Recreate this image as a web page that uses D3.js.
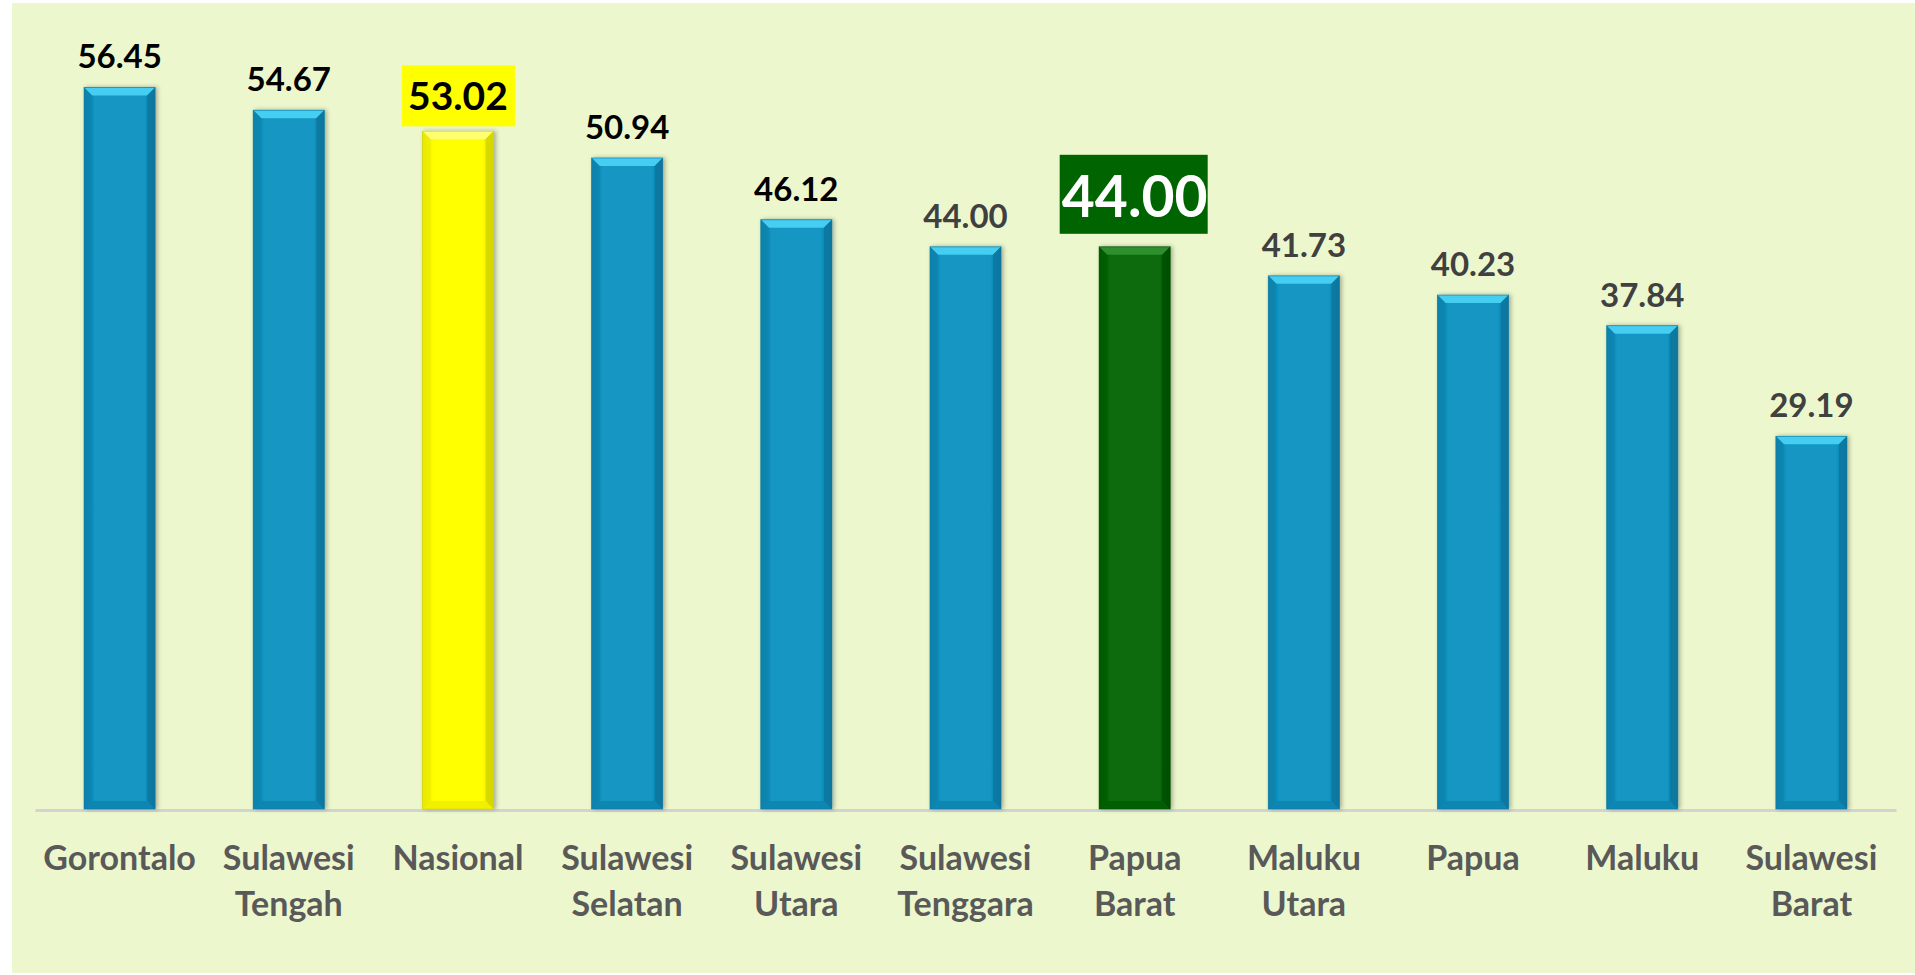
<!DOCTYPE html>
<html>
<head>
<meta charset="utf-8">
<script src="https://cdn.jsdelivr.net/npm/d3@7"></script>
<style>
  html, body { margin: 0; padding: 0; background: #ffffff; }
  svg { display: block; }
  text { font-family: Lato, "Open Sans", sans-serif; font-weight: bold; }
</style>
</head>
<body>
<div id="chart"></div>
<script>
// values
var categories = ["Gorontalo", "Sulawesi Tengah", "Nasional", "Sulawesi Selatan", "Sulawesi Utara",
  "Sulawesi Tenggara", "Papua Barat", "Maluku Utara", "Papua", "Maluku", "Sulawesi Barat"];
var values = [56.45, 54.67, 53.02, 50.94, 46.12, 44.00, 44.00, 41.73, 40.23, 37.84, 29.19];
var nationalName = "Nasional";
var featuredName = "Papua Barat";

var width = 1915, height = 975;

var svg = d3.select("#chart").append("svg")
  .attr("width", width)
  .attr("height", height);

// light green panel
svg.append("rect")
  .attr("x", 12).attr("y", 3)
  .attr("width", width - 12).attr("height", 970)
  .attr("fill", "#ecf7cd");

var x = d3.scaleBand()
  .domain(categories)
  .range([35, 1896])
  .paddingInner(0.58)
  .paddingOuter(0.29);

var y = d3.scaleLinear()
  .domain([0, 60])
  .range([810, 42]);

// colours for each kind of bar
var palettes = {
  blue:   { dark: "#0a769e", mid: "#1296c3", top: "#45cdf2", side: "#0d84af", bottom: "#0f86b1" },
  yellow: { dark: "#d4d400", mid: "#ffff00", top: "#ffff70", side: "#eeee00", bottom: "#f0f000" },
  green:  { dark: "#034f03", mid: "#076b07", top: "#2f8f2f", side: "#055c05", bottom: "#065f06" }
};

function kindOf(name) {
  if (name == nationalName) return "yellow";
  if (name == featuredName) return "green";
  return "blue";
}

var defs = svg.append("defs");
Object.keys(palettes).forEach(function(k) {
  var p = palettes[k];
  var g = defs.append("linearGradient").attr("id", "grad_" + k)
    .attr("x1", 0).attr("x2", 1).attr("y1", 0).attr("y2", 0);
  g.append("stop").attr("offset", "0%").attr("stop-color", p.dark);
  g.append("stop").attr("offset", "15%").attr("stop-color", p.mid);
  g.append("stop").attr("offset", "85%").attr("stop-color", p.mid);
  g.append("stop").attr("offset", "100%").attr("stop-color", p.dark);
});

var shadow = defs.append("filter").attr("id", "shadow")
  .attr("x", "-20%").attr("y", "-5%").attr("width", "140%").attr("height", "110%");
shadow.append("feDropShadow")
  .attr("dx", 2).attr("dy", 0).attr("stdDeviation", 2)
  .attr("flood-color", "#000").attr("flood-opacity", 0.3);

// axis line + category labels
var axis = svg.append("g")
  .attr("transform", "translate(0," + y(0) + ")")
  .call(d3.axisBottom(x).tickSize(0).tickSizeOuter(0).tickPadding(0));

axis.select(".domain")
  .attr("stroke", "#d3d3d3")
  .attr("stroke-width", 3);

axis.selectAll(".tick text")
  .attr("fill", "#595959")
  .style("font-size", "34px")
  .style("font-family", "Lato, sans-serif")
  .style("font-weight", "bold")
  .attr("y", 0)
  .attr("dy", null)
  .each(function(d) {
    var t = d3.select(this);
    var words = d.split(" ");
    t.text(null);
    words.forEach(function(w, i) {
      t.append("tspan")
        .attr("x", 0)
        .attr("y", 60 + i * 46)
        .text(w);
    });
  });

// bars
var bev = 8;
var bars = svg.append("g").selectAll("g.bar")
  .data(categories)
  .enter().append("g")
  .attr("class", "bar")
  .attr("filter", "url(#shadow)");

bars.each(function(d, i) {
  var g = d3.select(this);
  var p = palettes[kindOf(d)];
  var x0 = x(d), x1 = x(d) + x.bandwidth();
  var y0 = y(values[i]), y1 = y(0) - 1;

  g.append("rect")
    .attr("x", x0).attr("y", y0)
    .attr("width", x.bandwidth()).attr("height", y1 - y0)
    .attr("fill", "url(#grad_" + kindOf(d) + ")");

  // bevelled edges
  g.append("polygon")
    .attr("points", [[x0, y0], [x1, y0], [x1 - bev, y0 + bev], [x0 + bev, y0 + bev]].join(" "))
    .attr("fill", p.top);
  g.append("polygon")
    .attr("points", [[x0, y0], [x0 + bev, y0 + bev], [x0 + bev, y1 - bev], [x0, y1]].join(" "))
    .attr("fill", p.side).attr("opacity", 0.8);
  g.append("polygon")
    .attr("points", [[x1, y0], [x1 - bev, y0 + bev], [x1 - bev, y1 - bev], [x1, y1]].join(" "))
    .attr("fill", p.dark).attr("opacity", 0.8);
  g.append("polygon")
    .attr("points", [[x0, y1], [x1, y1], [x1 - bev, y1 - bev], [x0 + bev, y1 - bev]].join(" "))
    .attr("fill", p.bottom);

  g.append("rect")
    .attr("x", x0).attr("y", y0)
    .attr("width", x.bandwidth()).attr("height", y1 - y0)
    .attr("fill", "none")
    .attr("stroke", p.dark)
    .attr("stroke-opacity", 0.6)
    .attr("stroke-width", 1);
});

// value labels
var labels = svg.append("g");
categories.forEach(function(d, i) {
  var cx = x(d) + x.bandwidth() / 2;
  var top = y(values[i]);
  var txt = values[i].toFixed(2);
  var kind = kindOf(d);

  if (kind == "yellow") {
    labels.append("rect")
      .attr("x", cx - 56).attr("y", top - 66)
      .attr("width", 113).attr("height", 61)
      .attr("fill", "#ffff00");
    labels.append("text")
      .attr("x", cx).attr("y", top - 21)
      .attr("text-anchor", "middle")
      .attr("fill", "#000")
      .style("font-size", "39px")
      .text(txt);
  }
  else if (kind == "green") {
    labels.append("rect")
      .attr("x", cx - 75).attr("y", top - 92)
      .attr("width", 148).attr("height", 79)
      .attr("fill", "#006400");
    labels.append("text")
      .attr("x", cx).attr("y", top - 30)
      .attr("text-anchor", "middle")
      .attr("fill", "#ffffff")
      .style("font-size", "57px")
      .text(txt);
  }
  else {
    labels.append("text")
      .attr("x", cx).attr("y", top - 19)
      .attr("text-anchor", "middle")
      .attr("fill", i < 5 ? "#000000" : "#404040")
      .style("font-size", "33px")
      .text(txt);
  }
});
</script>
</body>
</html>
